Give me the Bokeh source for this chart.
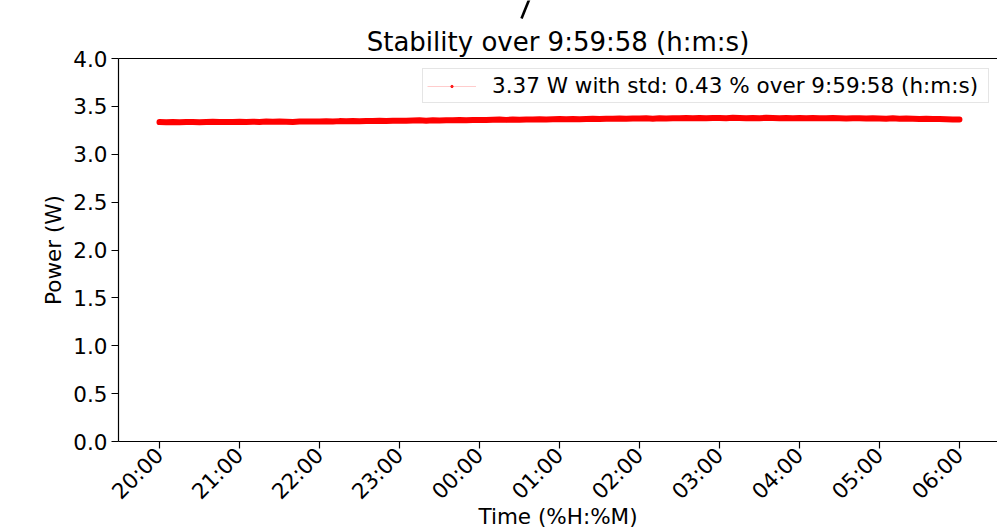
import pandas as pd
from bokeh.plotting import figure
from bokeh.layouts import column
from bokeh.models import (ColumnDataSource, Range1d, FixedTicker, DatetimeTickFormatter,
                          PrintfTickFormatter, Legend, LegendItem, LinearAxis)
from bokeh.embed import file_html
from bokeh.resources import INLINE
import math

# ---------------- data ----------------
TITLE = "Stability over 9:59:58 (h:m:s)"
LEGEND_LABEL = "3.37 W with std: 0.43 % over 9:59:58 (h:m:s)"
X_LABEL = "Time (%H:%M)"
Y_LABEL = "Power (W)"

START_TIME = "2023-01-01 20:00:00"
END_TIME = "2023-01-02 05:59:58"

power_w = [
    3.336, 3.334, 3.337, 3.335, 3.338, 3.336, 3.334, 3.337, 3.339, 3.336, 3.338, 3.337,
    3.339, 3.337, 3.340, 3.338, 3.341, 3.339, 3.342, 3.340, 3.338, 3.341, 3.343, 3.341,
    3.343, 3.345, 3.342, 3.346, 3.344, 3.347, 3.345, 3.348, 3.346, 3.349, 3.347, 3.350,
    3.351, 3.349, 3.352, 3.354, 3.351, 3.355, 3.353, 3.356, 3.354, 3.357, 3.355, 3.358,
    3.359, 3.357, 3.360, 3.362, 3.359, 3.363, 3.361, 3.364, 3.362, 3.365, 3.363, 3.366,
    3.367, 3.365, 3.368, 3.366, 3.369, 3.371, 3.368, 3.372, 3.370, 3.373, 3.371, 3.374,
    3.373, 3.375, 3.372, 3.376, 3.374, 3.377, 3.375, 3.378, 3.376, 3.379, 3.377, 3.378,
    3.379, 3.377, 3.380, 3.378, 3.376, 3.379, 3.377, 3.380, 3.378, 3.376, 3.379, 3.377,
    3.378, 3.376, 3.379, 3.377, 3.375, 3.378, 3.376, 3.374, 3.377, 3.375, 3.373, 3.376,
    3.374, 3.372, 3.375, 3.371, 3.373, 3.370, 3.368, 3.371, 3.367, 3.369, 3.366, 3.364,
    3.363,
]

y_ticks = [0.0, 0.5, 1.0, 1.5, 2.0, 2.5, 3.0, 3.5, 4.0]
x_tick_times = [
    "2023-01-01 20:00", "2023-01-01 21:00", "2023-01-01 22:00", "2023-01-01 23:00",
    "2023-01-02 00:00", "2023-01-02 01:00", "2023-01-02 02:00", "2023-01-02 03:00",
    "2023-01-02 04:00", "2023-01-02 05:00", "2023-01-02 06:00",
]

# ---------------- build ----------------
times = list(pd.date_range(START_TIME, periods=len(power_w) - 1, freq="5min")) + [pd.Timestamp(END_TIME)]
src = ColumnDataSource(dict(t=times, p=power_w))

def ms(ts):
    return pd.Timestamp(ts).value / 1e6

HOUR_MS = 3600 * 1000.0
x_start = ms(x_tick_times[0]) - HOUR_MS * 41.0 / 80.0
x_end = ms(x_tick_times[-1]) + HOUR_MS * 38.0 / 80.0

FONT = "DejaVu Sans"

# --- thin strip at the very top: stray slash stroke (cut-off decoration) ---
top = figure(width=997, height=20, x_range=Range1d(118, 997), y_range=Range1d(0, 20),
             output_backend="svg", toolbar_location=None,
             x_axis_location=None, y_axis_location=None,
             min_border_left=118, min_border_right=0, min_border_top=0, min_border_bottom=0)
top.outline_line_color = None
top.grid.grid_line_color = None
top.segment(x0=[521], y0=[2], x1=[529.5], y1=[23], line_color="black", line_width=2.6)

# --- main chart ---
p = figure(width=997, height=511, x_axis_type="datetime",
           x_range=Range1d(x_start, x_end), y_range=Range1d(0, 4),
           output_backend="svg", toolbar_location=None,
           min_border_left=118, min_border_right=0, min_border_top=38, min_border_bottom=90)
p.outline_line_color = None
p.grid.grid_line_color = None
p.background_fill_color = "white"
p.border_fill_color = "white"

p.title.text = TITLE
p.title.align = "center"
p.title.text_font = FONT
p.title.text_font_size = "26px"
p.title.text_font_style = "normal"
p.title.text_color = "black"
p.title.standoff = 3

# legend-only renderers (thin faint line + small dot)
leg_line = p.line("t", "p", source=src, line_color="red", line_alpha=0.2, line_width=1.2)
leg_dot = p.scatter("t", "p", source=src, marker="circle", size=2.5, color="red", alpha=0.8)
# main band
p.line("t", "p", source=src, line_color="red", line_width=6, line_join="round", line_cap="round")

# axes styling
for ax in (p.xaxis[0], p.yaxis[0]):
    ax.axis_line_color = "black"
    ax.axis_line_width = 1.2
    ax.major_tick_line_color = "black"
    ax.major_tick_line_width = 1.2
    ax.major_tick_out = 7
    ax.major_tick_in = 0
    ax.minor_tick_line_color = None
    ax.major_label_text_font = FONT
    ax.major_label_text_font_size = "21.5px"
    ax.major_label_text_color = "black"

p.yaxis.ticker = FixedTicker(ticks=y_ticks)
p.yaxis.formatter = PrintfTickFormatter(format="%.1f")
p.yaxis.major_label_standoff = 4
p.yaxis.axis_label = Y_LABEL
p.yaxis.axis_label_text_font = FONT
p.yaxis.axis_label_text_font_size = "21.5px"
p.yaxis.axis_label_text_font_style = "normal"
p.yaxis.axis_label_text_color = "black"
p.yaxis.axis_label_standoff = 4

p.xaxis.ticker = FixedTicker(ticks=[ms(t) for t in x_tick_times])
fmt = "%H:%M"
p.xaxis.formatter = DatetimeTickFormatter(
    microseconds=fmt, milliseconds=fmt, seconds=fmt, minsec=fmt, minutes=fmt,
    hourmin=fmt, hours=fmt, days=fmt, months=fmt, years=fmt)
p.xaxis.major_label_orientation = math.pi / 4
p.xaxis.major_label_standoff = 3
p.xaxis.axis_label = X_LABEL
p.xaxis.axis_label_text_font = FONT
p.xaxis.axis_label_text_font_size = "21.5px"
p.xaxis.axis_label_text_font_style = "normal"
p.xaxis.axis_label_text_color = "black"
p.xaxis.axis_label_standoff = -12

# top spine
top_ax = LinearAxis(ticker=FixedTicker(ticks=[]), axis_line_color="black", axis_line_width=1.2,
                    major_tick_line_color=None, minor_tick_line_color=None,
                    major_tick_out=0, minor_tick_out=0, major_label_standoff=0,
                    major_label_text_font_size="0px")
p.add_layout(top_ax, "above")

legend = Legend(items=[LegendItem(label=LEGEND_LABEL, renderers=[leg_line, leg_dot])],
                location=(422 - 118, 441 - 103))
legend.label_text_font = FONT
legend.label_text_font_size = "21.5px"
legend.label_text_color = "black"
legend.padding = 4
legend.spacing = 0
legend.margin = 0
legend.glyph_width = 49
legend.glyph_height = 6
legend.label_standoff = 16
legend.label_width = 492
legend.border_line_color = "#cccccc"
legend.border_line_width = 1
legend.background_fill_color = "white"
legend.background_fill_alpha = 0.8
p.add_layout(legend, "center")

layout = column(top, p, spacing=0)
open("out.html", "w").write(file_html(layout, INLINE))
